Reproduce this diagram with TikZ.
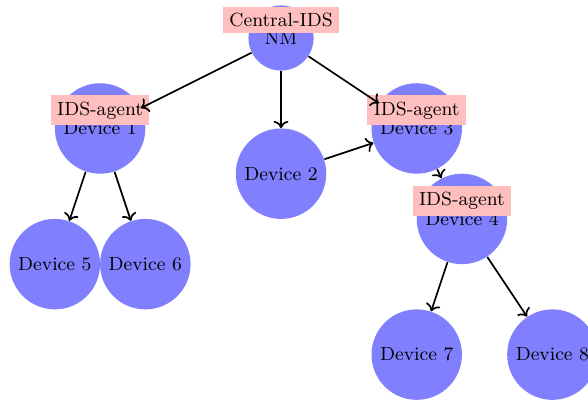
\documentclass[tikz,border=0pt]{standalone}
\usepackage{tikz}
\usetikzlibrary{arrows.meta}
\usetikzlibrary{positioning}

\begin{document}
\begin{tikzpicture}[
      device/.style={circle, fill=blue!50, font=\small, minimum size=1.5cm, inner sep=1pt},
      manager/.style={circle, fill=blue!50, font=\small, minimum size=1.08cm, inner sep=1pt},
      agent/.style={rectangle, fill=red!25, font=\small, inner sep=3pt},
      arrow/.style={->, thick}
      ]

      \useasboundingbox (-4.66,-6.0) rectangle (5.09,0.63);
      \clip (-4.66,-6.0) rectangle (5.09,0.63);

      % Nodes
      \node[manager] (NM) at (0,0) {NM};
      \node[device] (D1) at (-3,-1.5) {Device 1};
      \node[device] (D2) at (0,-2.25) {Device 2};
      \node[device] (D3) at (2.25,-1.5) {Device 3};
      \node[device] (D4) at (3,-3) {Device 4};
      \node[device] (D5) at (-3.75,-3.75) {Device 5};
      \node[device] (D6) at (-2.25,-3.75) {Device 6};
      \node[device] (D7) at (2.25,-5.25) {Device 7};
      \node[device] (D8) at (4.5,-5.25) {Device 8};

      % Labels
      \node[agent] (L0) at ([yshift=0.3cm]NM.center) {Central-IDS};
      \node[agent] (L1) at ([yshift=0.3cm]D1.center) {IDS-agent};
      \node[agent] (L3) at ([yshift=0.3cm]D3.center) {IDS-agent};
      \node[agent] (L4) at ([yshift=0.3cm]D4.center) {IDS-agent};

      % Arrows
      \draw[arrow] (NM) -- (D1);
      \draw[arrow] (NM) -- (D2);
      \draw[arrow] (NM) -- (D3);
      \draw[arrow] (D2) -- (D3);
      \draw[arrow] (D3) -- (D4);
      \draw[arrow] (D1) -- (D5);
      \draw[arrow] (D1) -- (D6);
      \draw[arrow] (D4) -- (D7);
      \draw[arrow] (D4) -- (D8);

    \end{tikzpicture}
\end{document}
